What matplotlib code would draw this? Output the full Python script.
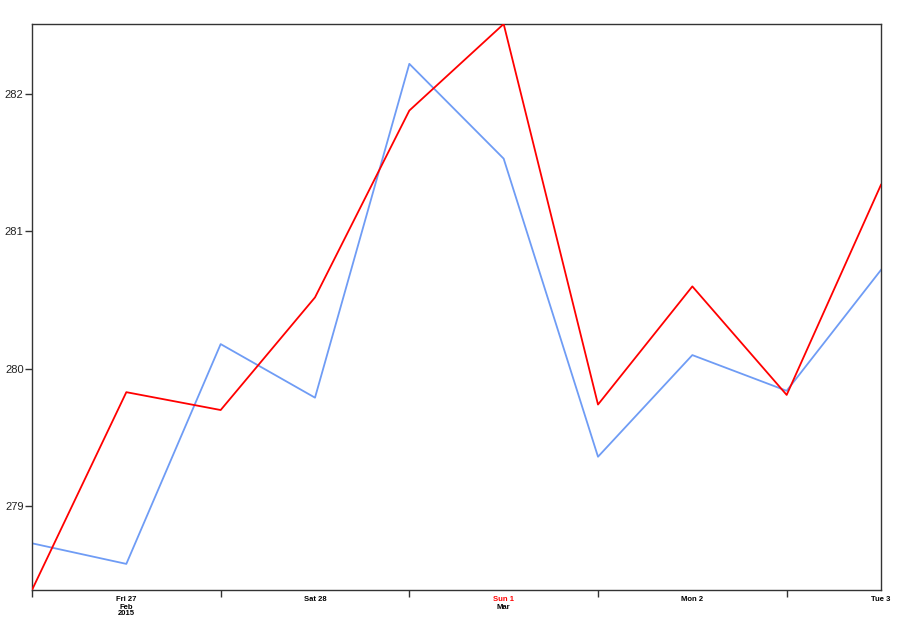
import matplotlib
matplotlib.use("Agg")
import matplotlib.pyplot as plt
import matplotlib.dates as mdates
import matplotlib.transforms as mtransforms
import numpy as np
import pandas as pd

times = pd.date_range("2015-02-26 12:00", "2015-03-03 00:00", freq="12h")
red_values = [278.39, 279.83, 279.70, 280.52, 281.88, 282.51, 279.74, 280.60, 279.81, 281.34]
blue_values = [278.73, 278.58, 280.18, 279.79, 282.22, 281.53, 279.36, 280.10, 279.84, 280.72]
y_ticks = [279, 280, 281, 282]
day_labels = ["Fri 27", "Sat 28", "Sun 1", "Mon 2", "Tue 3"]
day_label_colors = ["black", "black", "red", "black", "black"]
day_positions = pd.to_datetime(["2015-02-27", "2015-02-28", "2015-03-01", "2015-03-02", "2015-03-03"])
sub_labels = {0: "Feb\n2015", 2: "Mar"}
tick_positions = pd.to_datetime(["2015-02-26 12:00", "2015-02-27 12:00", "2015-02-28 12:00",
                                 "2015-03-01 12:00", "2015-03-02 12:00"])

plt.rcParams['font.family'] = ['Liberation Sans', 'DejaVu Sans']
fig = plt.figure(figsize=(9.22, 6.21), dpi=100)
ax = fig.add_axes([32/922, 1-590/621, (881-32)/922, (590-24)/621])

ax.plot(times, blue_values, color="#6f9cf5", lw=1.3, zorder=2)
ax.plot(times, red_values, color="#ff0000", lw=1.3, zorder=3)

ax.set_xlim(times[0], times[-1])
ax.set_ylim(min(red_values + blue_values), max(red_values + blue_values))

ax.set_yticks(y_ticks)
ax.set_yticklabels([str(v) for v in y_ticks], fontsize=8, color="#222222")
ax.tick_params(axis='y', length=5, width=1, color="#333333", pad=1)

ax.set_xticks(tick_positions)
ax.set_xticklabels([""] * len(tick_positions))
ax.tick_params(axis='x', which='major', length=5, width=1, color="#333333")
ax.set_xticks(day_positions, minor=True)
ax.set_xticklabels(day_labels, minor=True, fontsize=5.5, fontweight='bold')
ax.tick_params(axis='x', which='minor', length=0, pad=4)
for lbl, c in zip(ax.get_xticklabels(minor=True), day_label_colors):
    lbl.set_color(c)

trans = mtransforms.blended_transform_factory(ax.transData, ax.transAxes)
for i, txt in sub_labels.items():
    ax.annotate(txt, xy=(mdates.date2num(day_positions[i]), 0), xycoords=trans,
                xytext=(0, -10), textcoords='offset points', ha='center', va='top',
                fontsize=5.5, fontweight='bold', linespacing=0.9)

for s in ax.spines.values():
    s.set_color("#333333")
    s.set_linewidth(1)

fig.savefig("out.png", dpi=100)
